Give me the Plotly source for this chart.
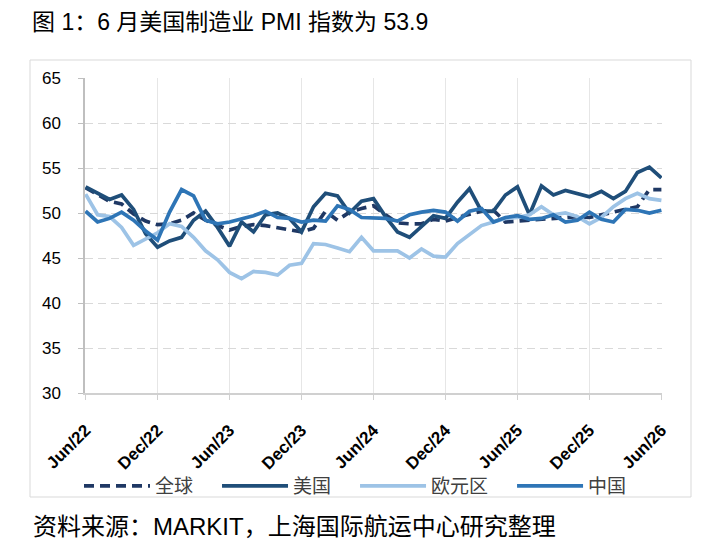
import pandas as pd
import plotly.graph_objects as go

# 月份：2022年6月 - 2026年6月
months = pd.date_range("2022-06-01", "2026-06-01", freq="MS").strftime("%b/%y").tolist()

quanqiu = [52.8, 52.0, 51.3, 51.0, 49.9, 49.1, 48.7, 48.8, 49.2, 50.0, 49.2, 48.6,
           48.1, 48.5, 48.7, 48.6, 48.4, 48.2, 47.9, 48.3, 50.2, 49.2, 50.1, 50.5,
           50.8, 49.8, 48.9, 48.8, 48.8, 49.3, 49.1, 49.5, 49.9, 50.2, 50.3, 49.0,
           49.1, 49.2, 49.3, 49.5, 49.6, 49.6, 49.5, 49.8, 50.2, 50.5, 50.7, 52.6,
           52.6]
meiguo = [52.9, 52.2, 51.5, 52.0, 50.4, 47.7, 46.2, 46.9, 47.3, 49.2, 50.2, 48.4,
          46.3, 49.0, 47.9, 49.8, 50.0, 49.4, 47.9, 50.7, 52.2, 51.9, 50.0, 51.3,
          51.6, 49.6, 47.9, 47.3, 48.5, 49.7, 49.4, 51.2, 52.7, 50.2, 50.2, 52.0,
          52.9, 49.8, 53.0, 52.0, 52.5, 52.2, 51.8, 52.4, 51.6, 52.4, 54.5, 55.1,
          53.9]
ouyuanqu = [52.1, 49.8, 49.6, 48.4, 46.4, 47.1, 47.8, 48.8, 48.5, 47.3, 45.8, 44.8,
            43.4, 42.7, 43.5, 43.4, 43.1, 44.2, 44.4, 46.6, 46.5, 46.1, 45.7, 47.3,
            45.8, 45.8, 45.8, 45.0, 46.0, 45.2, 45.1, 46.6, 47.6, 48.6, 49.0, 49.4,
            49.5, 49.8, 50.7, 49.8, 50.0, 49.6, 48.8, 49.5, 50.7, 51.6, 52.2, 51.6,
            51.4]
zhongguo = [50.2, 49.0, 49.4, 50.1, 49.2, 48.0, 47.0, 50.1, 52.6, 51.9, 49.2, 48.8,
            49.0, 49.3, 49.7, 50.2, 49.5, 49.4, 49.0, 49.2, 49.1, 50.8, 50.4, 49.5,
            49.5, 49.4, 49.1, 49.8, 50.1, 50.3, 50.1, 49.1, 50.2, 50.5, 49.0, 49.5,
            49.7, 49.3, 49.4, 49.8, 49.0, 49.2, 50.1, 49.3, 49.0, 50.4, 50.3, 50.0,
            50.3]

y_ticks = [30, 35, 40, 45, 50, 55, 60, 65]

series = [
    ("全球", quanqiu, "#1F3864", "10px,6px"),
    ("美国", meiguo, "#1F4E79", "solid"),
    ("欧元区", ouyuanqu, "#9DC3E6", "solid"),
    ("中国", zhongguo, "#2E75B6", "solid"),
]

FONT = "Liberation Sans, Arial, Noto Sans CJK SC, sans-serif"
W, H = 717, 540
# 页面自带 8px 边距，绘图区按此偏移
L, T, R, B = 77, 70, 654, 385
PW, PH = R - L, B - T

fig = go.Figure()
for name, vals, color, dash in series:
    fig.add_trace(go.Scatter(
        x=months, y=vals, name=name + "\u2003", mode="lines",
        line=dict(color=color, width=3.7, dash=dash),
    ))

fig.update_xaxes(
    type="category", range=[-0.05, 48.05], automargin=False,
    tickvals=months[::6], ticktext=months[::6], tickangle=-45,
    tickfont=dict(family=FONT, size=17, color="#000000", weight="bold"),
    showgrid=True, gridcolor="#E6E6E6", gridwidth=1,
    showline=True, linecolor="#D0D0D0", linewidth=1.5,
    ticks="outside", ticklen=5, tickcolor="#D0D0D0", ticklabelstandoff=14,
    zeroline=False,
)
fig.update_yaxes(
    range=[30, 65], tickvals=y_ticks, automargin=False,
    tickfont=dict(family=FONT, size=17, color="#000000"),
    showgrid=True, gridcolor="#D9D9D9", gridwidth=1, griddash="8px,5px",
    showline=True, linecolor="#BFBFBF", linewidth=1.5,
    ticks="outside", ticklen=5, tickcolor="#BFBFBF", ticklabelstandoff=14,
    zeroline=False,
)

fig.update_layout(
    width=W, height=H,
    margin=dict(l=L, r=W - R, t=T, b=H - B),
    paper_bgcolor="white", plot_bgcolor="white",
    font=dict(family=FONT),
    title=dict(
        text="图 1：6 月美国制造业 PMI 指数为 53.9",
        xref="container", yref="container", x=24 / W, y=1 - 14 / H,
        xanchor="left", yanchor="middle", pad=dict(l=0, r=0, t=0, b=0),
        font=dict(family=FONT, size=23, color="#000000"),
    ),
    showlegend=True,
    legend=dict(
        orientation="h", xref="container", yref="container",
        x=71 / W, y=1 - 478 / H, xanchor="left", yanchor="middle",
        itemwidth=66, font=dict(family="Noto Sans CJK SC", size=19, color="#404040"),
        bgcolor="rgba(0,0,0,0)", tracegroupgap=0,
    ),
)

# 外框
fig.add_shape(type="rect", xref="paper", yref="paper",
              x0=(22 - L) / PW, x1=(683 - L) / PW,
              y0=(B - 489) / PH, y1=(B - 52) / PH,
              line=dict(color="#D9D9D9", width=1))

fig.add_annotation(
    text="资料来源：MARKIT，上海国际航运中心研究整理",
    xref="paper", yref="paper", x=(23 - L) / PW, y=(B - 518) / PH,
    xanchor="left", yanchor="middle", showarrow=False,
    font=dict(family=FONT, size=24, color="#000000"),
)

fig.write_html("out.html")
